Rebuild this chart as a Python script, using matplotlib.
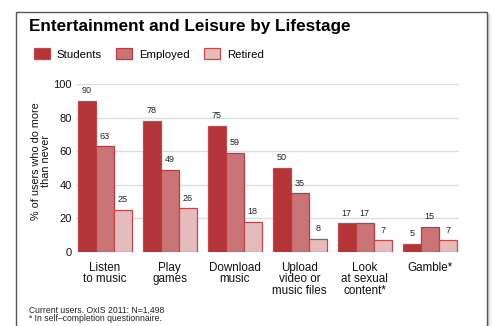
import numpy as np
import matplotlib
matplotlib.use("Agg")
import matplotlib.pyplot as plt
from matplotlib.patches import Rectangle

plt.rcParams['font.family'] = ['Liberation Sans', 'DejaVu Sans']

# OxIS 2011 - entertainment activities by lifestage (% of users)
categories = ["Listen\nto music", "Play\ngames", "Download\nmusic",
              "Upload\nvideo or\nmusic files", "Look\nat sexual\ncontent*", "Gamble*"]
students = [90, 78, 75, 50, 17, 5]
employed = [63, 49, 59, 35, 17, 15]
retired = [25, 26, 18, 8, 7, 7]

series_names = ["Students", "Employed", "Retired"]
fills = ["#b43437", "#cb7477", "#e5bcbc"]
edges = ["#bf4a4d", "#bb3c40", "#c4474a"]

W, H = 494, 326
fig = plt.figure(figsize=(W / 100, H / 100), dpi=100)
fig.patch.set_facecolor("white")

# panel border with a soft shadow on the right
for k, a in enumerate([0.10, 0.07, 0.04, 0.02]):
    fig.patches.append(Rectangle(((487 + k) / W, -0.1), 1.5 / W, 1 - 14 / H + 0.1,
                                 transform=fig.transFigure, facecolor="black",
                                 edgecolor="none", alpha=a, zorder=-10))
fig.patches.append(Rectangle((16 / W, -0.1), 471 / W, 1 - 12 / H + 0.1,
                             transform=fig.transFigure, facecolor="white",
                             edgecolor="#555555", linewidth=1.0, zorder=-9))

ax = fig.add_axes([76 / W, 1 - 252 / H, 383 / W, 168 / H])
ax.set_facecolor("none")

x = np.arange(len(categories))
w = 18 / 65
for i, vals in enumerate([students, employed, retired]):
    pos = x + (i - 1) * w
    bars = ax.bar(pos, vals, width=w, color=fills[i], edgecolor=edges[i],
                  linewidth=0.9, label=series_names[i], zorder=3)
    for b, v in zip(bars, vals):
        ax.annotate(str(v), (b.get_x() + b.get_width() / 2, v), xytext=(0, 4),
                    textcoords="offset points", ha="center", va="bottom",
                    fontsize=6.5, color="#222222")

ax.set_xlim(-0.44, 5.45)
ax.set_ylim(0, 100)
ax.set_yticks([0, 20, 40, 60, 80, 100])
ax.yaxis.grid(True, color="#dddddd", linewidth=1.0, zorder=0)
ax.set_axisbelow(True)
for s in ax.spines.values():
    s.set_visible(False)
ax.tick_params(axis="y", length=0, pad=3, labelsize=8.0, labelcolor="#111111")
ax.tick_params(axis="x", length=0, pad=7, labelsize=8.4, labelcolor="#111111")
ax.set_xticks(x)
ax.set_xticklabels(categories, linespacing=0.95)
ax.set_ylabel("% of users who do more\nthan never", fontsize=7.8,
              linespacing=0.95, color="#111111")
ax.yaxis.set_label_coords(-0.066, 0.54)

fig.text(29 / W, 1 - 27 / H, "Entertainment and Leisure by Lifestage",
         fontsize=12.3, fontweight="bold", va="center", ha="left")

leg = fig.legend(loc="center left", bbox_to_anchor=(29 / W, 1 - 54 / H), ncol=3,
                 frameon=False, fontsize=8.2, handlelength=1.4, handleheight=1.1,
                 handletextpad=0.6, columnspacing=1.3, borderaxespad=0)

fig.text(29 / W, 1 - 310 / H, "Current users. OxIS 2011: N=1,498",
         fontsize=6.2, va="center", ha="left", color="#222222")
fig.text(29 / W, 1 - 318.5 / H, "* In self\u2013completion questionnaire.",
         fontsize=6.2, va="center", ha="left", color="#222222")

fig.savefig("out.png", dpi=100)
